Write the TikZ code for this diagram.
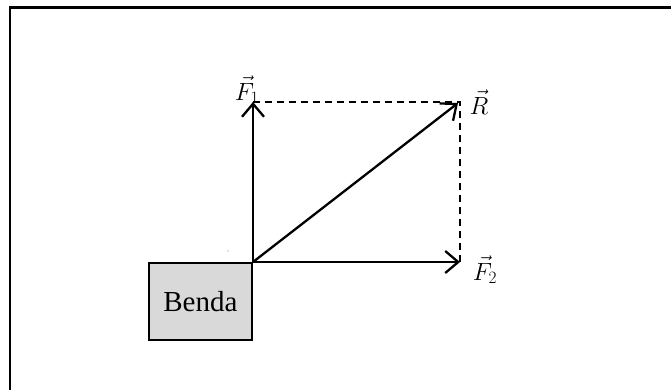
\documentclass[tikz,border=0pt]{standalone}
\usepackage{fontspec}
\setmainfont{Liberation Serif}
\usetikzlibrary{arrows.meta}
\begin{document}
\begin{tikzpicture}[x=1pt,y=-1pt,
  vec/.style={line width=2.3pt,-{Straight Barb[length=13pt,width=22pt,line width=2.3pt]}},
  guide/.style={line width=1.3pt,dash pattern=on 7pt off 5pt},
  benda/.style={draw,line width=2.3pt,fill=black!15,minimum width=103pt,minimum height=77pt,inner sep=0pt,font=\fontsize{29}{34}\selectfont},
  lab/.style={font=\fontsize{24}{28}\selectfont,inner sep=0pt}]
\useasboundingbox (0,0) rectangle (671,389);
\begin{scope}
\clip (0,0) rectangle (671,389);
\draw[line width=2.6pt] (10,400) -- (10,7.3) -- (690,7.3);
\end{scope}
\coordinate (O) at (253,262);
\coordinate (F1) at (253,102);
\coordinate (F2) at (460,262);
\coordinate (R) at (460,102);
\coordinate (Rt) at (458,103);
\node[benda,anchor=north east] (B) at (O) {Benda};
\draw[guide] (F1) -- (R) -- (F2);
\draw[vec] (O) -- (F1);
\draw[vec] (O) -- (F2);
\draw[vec] (O) -- (Rt);
\node[lab] (lF1) at (247,90) {$\vec{F}_1$};
\node[lab] (lR) at (479,102) {$\vec{R}$};
\node[lab] (lF2) at (485,270) {$\vec{F}_2$};
\node[font=\tiny,text=black!50,inner sep=0pt] (hat) at (228,252) {\textasciicircum};
\end{tikzpicture}
\end{document}
